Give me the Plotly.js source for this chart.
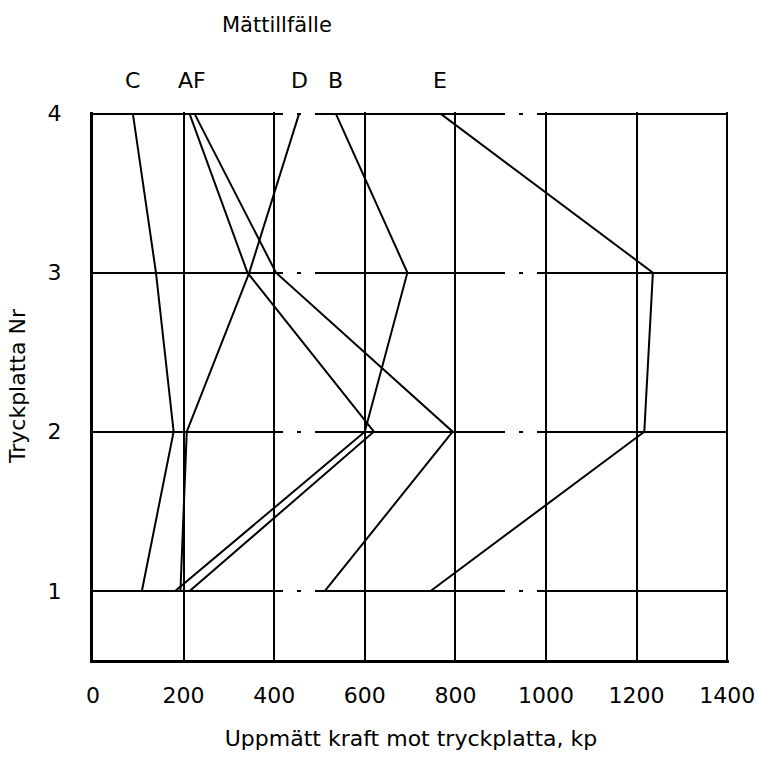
<!DOCTYPE html>
<html><head><meta charset="utf-8">
<script src="https://cdn.plot.ly/plotly-3.0.1.min.js"></script>
<style>html,body{margin:0;padding:0;background:#fff}</style>
</head><body><div id="chart" style="width:758px;height:761px"></div>
<script>
// Tryckplatta Nr (y) and measured force in kp (x) for each Mättillfälle
const plates = [1, 2, 3, 4];
const caseA = [214, 620, 341, 213];
const caseB = [182, 600, 694, 536];
const caseC = [108, 178, 139, 88];
const caseD = [193, 207, 345, 455];
const caseE = [746, 1217, 1236, 767];
const caseF = [512, 794, 404, 224];
const xTicks = [0, 200, 400, 600, 800, 1000, 1200, 1400];
const yTicks = [1, 2, 3, 4];
const labelNames = ['C', 'AF', 'D', 'B', 'E'];
const labelSources = [[caseC], [caseA, caseF], [caseD], [caseB], [caseE]];

const FONT = 'DejaVu Sans, sans-serif';
const series = [caseA, caseB, caseC, caseD, caseE, caseF];
const traces = series.map(s => ({
  x: s, y: plates, type: 'scatter', mode: 'lines',
  line: {color: '#000', width: 2}, hoverinfo: 'skip', showlegend: false
}));

const annotations = labelNames.map((name, i) => {
  const srcs = labelSources[i];
  const top = srcs.reduce((a, s) => a + s[s.length - 1], 0) / srcs.length;
  return {x: top, xref: 'x', y: 1.058, yref: 'paper', text: name, showarrow: false,
          xanchor: 'center', yanchor: 'middle', font: {family: FONT, size: 22, color: '#000'}};
});
annotations.push({x: 0.289, xref: 'paper', y: 1.159, yref: 'paper', text: 'Mättillfälle',
  showarrow: false, xanchor: 'center', yanchor: 'middle', font: {family: FONT, size: 21, color: '#000'}});

const layout = {
  width: 758, height: 761,
  margin: {l: 93, r: 29, t: 112, b: 101},
  paper_bgcolor: '#fff', plot_bgcolor: '#fff',
  font: {family: FONT, size: 22, color: '#000'},
  showlegend: false,
  xaxis: {
    range: [0, 1404], tickvals: xTicks, ticktext: xTicks.map(String),
    showgrid: true, gridcolor: '#000', gridwidth: 2,
    zeroline: false, showline: true, linecolor: '#000', linewidth: 3,
    ticks: '', ticklabelstandoff: 14,
    title: {text: 'Uppmätt kraft mot tryckplatta, kp', font: {family: FONT, size: 22, color: '#000'}, standoff: 24},
    automargin: false
  },
  yaxis: {
    range: [0.565, 4.01], tickvals: yTicks, ticktext: yTicks.map(String),
    showgrid: true, gridcolor: '#000', gridwidth: 2, griddash: '190px,14px,4px,14px',
    zeroline: false, showline: true, linecolor: '#000', linewidth: 3,
    ticks: '', ticklabelstandoff: 24,
    title: {text: 'Tryckplatta Nr', font: {family: FONT, size: 22, color: '#000'}, standoff: 16},
    automargin: false
  },
  annotations: annotations
};

Plotly.newPlot('chart', traces, layout, {displayModeBar: false, staticPlot: true});
</script>
</body></html>
